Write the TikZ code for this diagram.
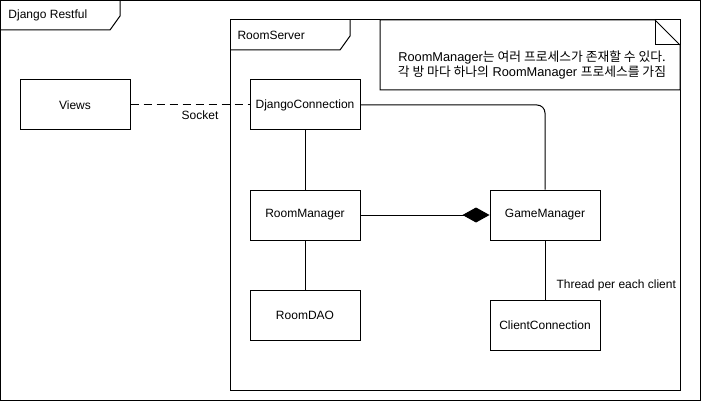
\documentclass[tikz,border=0pt]{standalone}
\usepackage{fontspec}
\setmainfont{Liberation Sans}
\newfontfamily\kfont{Noto Sans CJK KR}
\usetikzlibrary{arrows.meta}

\begin{document}
\begin{tikzpicture}[x=1pt,y=-1pt,line width=1pt,
    cls/.style={rectangle,draw=black,fill=white,minimum width=110pt,minimum height=50pt,inner sep=0pt,font=\fontsize{12}{14}\selectfont},
    lbl/.style={inner sep=0pt,font=\fontsize{12}{15}\selectfont},
    composes/.style={-{Diamond[length=27pt,width=15pt]}}
  ]
  \useasboundingbox (0,0) rectangle (701,401);
  % frames
  \draw (0.5,0.5) rectangle (700.5,400.5);
  \draw (0.5,30) -- (110,30) -- (120,16) -- (120,0.5);
  \node[lbl,anchor=west] (djangoframe) at (8,15) {Django Restful};
  \draw (230,20) rectangle (680,390);
  \draw (230,50) -- (340,50) -- (350,36) -- (350,20);
  \node[lbl,anchor=west] (roomframe) at (237,35) {RoomServer};
  % note
  \draw[fill=white] (380,20) -- (655,20) -- (680,45) -- (680,90) -- (380,90) -- cycle;
  \draw (655,20) -- (655,45) -- (680,45);
  \node[lbl,align=center,font=\fontsize{12.8}{15}\selectfont] (note) at (532,65)
    {RoomManager{\kfont 는 여러 프로세스가 존재할 수 있다.}\\
     {\kfont 각 방 마다 하나의} RoomManager {\kfont 프로세스를 가짐}};

  \foreach \name/\x/\y/\txt in {views/75/105/Views, djconn/305/105/DjangoConnection,
      roommgr/305/215/RoomManager, roomdao/305/315/RoomDAO,
      gamemgr/545/215/GameManager, clientconn/545/325/ClientConnection}
    {
    \node[cls] (\name) at (\x,\y) {\txt};
    }

  \draw[dashed,dash pattern=on 8pt off 5pt] (views) -- (djconn);
  \node[lbl] (socket) at (200,115) {Socket};
  \draw[rounded corners=8pt] (djconn.east) -- (gamemgr.north |- djconn.east) -- (gamemgr.north);
  \draw (djconn) -- (roommgr);
  \draw (roommgr) -- (roomdao);
  \draw[composes] (roommgr) -- (gamemgr);
  \draw (gamemgr) -- (clientconn);
  \node[lbl,anchor=west] (thread) at (556,285) {Thread per each client};
\end{tikzpicture}
\end{document}
